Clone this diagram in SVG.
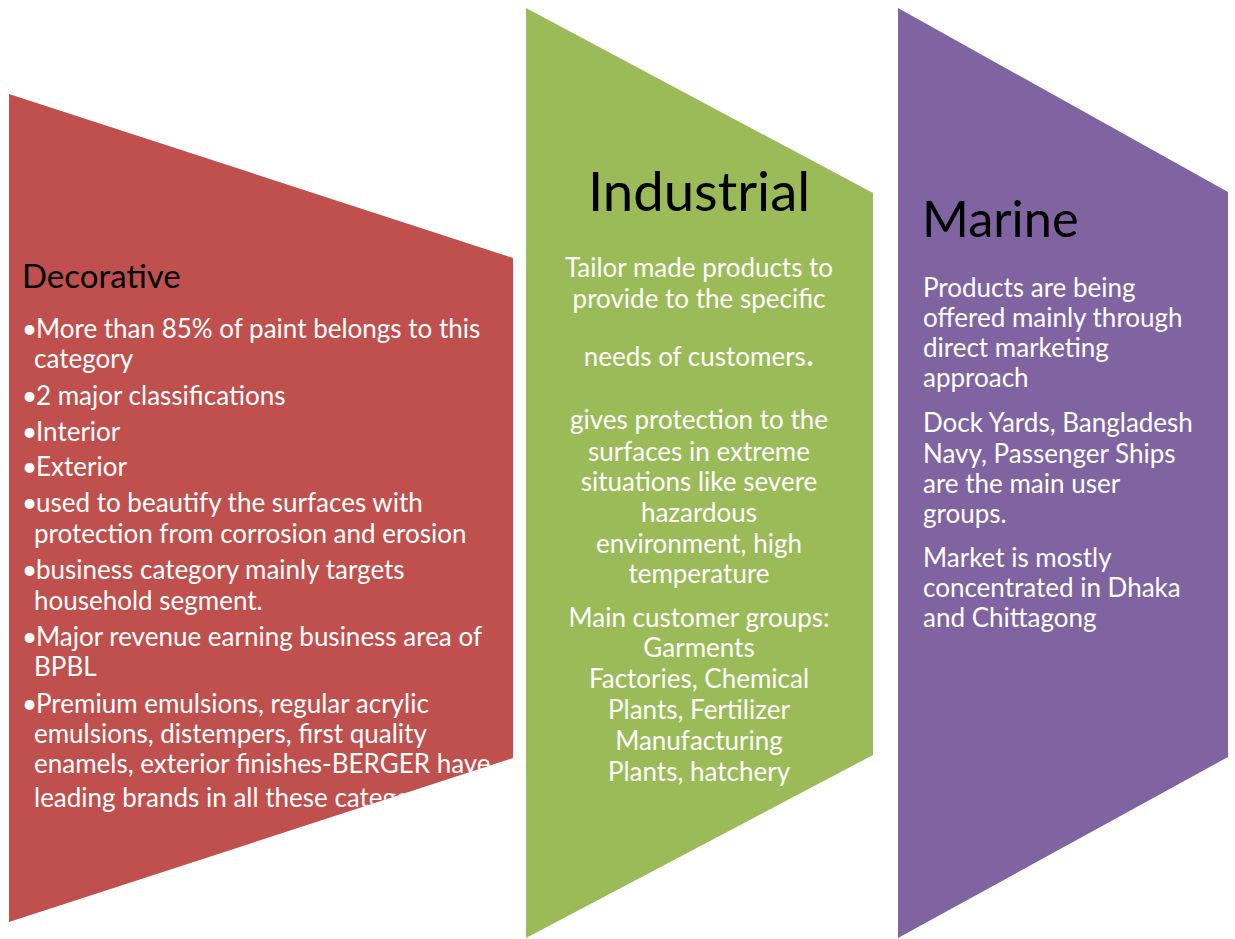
<svg xmlns="http://www.w3.org/2000/svg" width="1235" height="939" viewBox="0 0 1235 939">
<defs>
<style>
.t{font-family:Lato,"Liberation Sans",sans-serif;}
.title{fill:#000;}
.body{fill:#fff;font-size:26px;}
.mid{text-anchor:middle;}
</style>
<clipPath id="clipRed"><polygon points="9,94 513,258 513,758 9,922"/></clipPath>
</defs>
<rect width="1235" height="939" fill="#fff"/>
<g id="decorative">
<polygon points="9,94 513,258 513,758 9,922" fill="#C0504D"/>
<g clip-path="url(#clipRed)" class="t">
<text class="title" x="22" y="288" font-size="33">Decorative</text>
<g class="body">
<text x="22" y="338">•</text><text x="36" y="338">More than 85% of paint belongs to this</text>
<text x="34" y="368">category</text>
<text x="22" y="405">•</text><text x="36" y="405">2 major classifications</text>
<text x="22" y="441">•</text><text x="36" y="441">Interior</text>
<text x="22" y="476">•</text><text x="36" y="476">Exterior</text>
<text x="22" y="512">•</text><text x="36" y="512">used to beautify the surfaces with</text>
<text x="34" y="543">protection from corrosion and erosion</text>
<text x="22" y="579">•</text><text x="36" y="579">business category mainly targets</text>
<text x="34" y="610">household segment.</text>
<text x="22" y="646">•</text><text x="36" y="646">Major revenue earning business area of</text>
<text x="34" y="676">BPBL</text>
<text x="22" y="713">•</text><text x="36" y="713">Premium emulsions, regular acrylic</text>
<text x="34" y="743">emulsions, distempers, first quality</text>
<text x="34" y="773">enamels, exterior finishes-BERGER have</text>
<text x="34" y="807">leading brands in all these categories</text>
</g>
</g>
</g>
<g id="industrial">
<polygon points="526,8 873,193 873,755 526,938" fill="#9BBB59"/>
<g class="t mid">
<text class="title" x="699" y="211" font-size="54.5">Industrial</text>
<g class="body">
<text x="699" y="277">Tailor made products to</text>
<text x="699" y="308">provide to the specific</text>
<text x="699" y="366">needs of customers<tspan font-size="36">.</tspan></text>
<text x="699" y="429">gives protection to the</text>
<text x="699" y="461">surfaces in extreme</text>
<text x="699" y="491">situations like severe</text>
<text x="699" y="522">hazardous</text>
<text x="699" y="553">environment, high</text>
<text x="699" y="583">temperature</text>
<text x="699" y="627">Main customer groups:</text>
<text x="699" y="657">Garments</text>
<text x="699" y="688">Factories, Chemical</text>
<text x="699" y="719">Plants, Fertilizer</text>
<text x="699" y="750">Manufacturing</text>
<text x="699" y="781">Plants, hatchery</text>
</g>
</g>
</g>
<g id="marine">
<polygon points="898,8 1228,192 1228,757 898,938" fill="#8064A2"/>
<g class="t">
<text class="title" x="922" y="237" font-size="50.5">Marine</text>
<g class="body">
<text x="923" y="297">Products are being</text>
<text x="923" y="327">offered mainly through</text>
<text x="923" y="357">direct marketing</text>
<text x="923" y="387">approach</text>
<text x="923" y="432">Dock Yards, Bangladesh</text>
<text x="923" y="463">Navy, Passenger Ships</text>
<text x="923" y="493">are the main user</text>
<text x="923" y="523">groups.</text>
<text x="923" y="567">Market is mostly</text>
<text x="923" y="597">concentrated in Dhaka</text>
<text x="923" y="627">and Chittagong</text>
</g>
</g>
</g>
<g id="connectors"></g>
</svg>
